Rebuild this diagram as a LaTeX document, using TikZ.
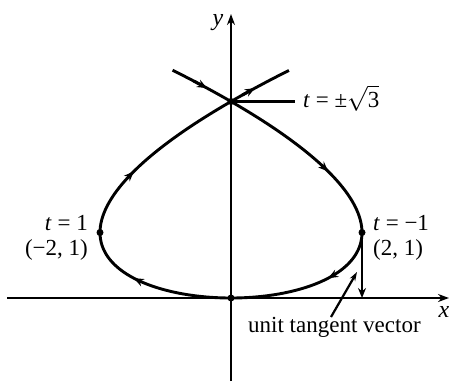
\documentclass[tikz,border=0pt]{standalone}
\usepackage{fontspec}
\setmainfont{Liberation Serif}
\usetikzlibrary{arrows.meta}
\begin{document}
\begin{tikzpicture}[x=1pt,y=-1pt,
  curve/.style={line width=2.9pt},
  axis/.style={line width=2.6pt,-{Stealth[length=11pt,width=8pt]}},
  lbl/.style={font=\fontsize{23}{27}\selectfont, inner sep=0pt},
  dot/.style={circle,fill,inner sep=0pt,minimum size=7pt},
  tip/.style={line width=2.9pt,-{Stealth[length=10pt,width=8pt]}}]
\useasboundingbox (0,0) rectangle (455,381);
% axes
\coordinate (xl) at (7,298);
\coordinate (xr) at (449,298);
\coordinate (yb) at (231,381);
\coordinate (yt) at (231,14);
\draw[axis] (xl) -- (xr);
\draw[axis] (yb) -- (yt);
\node[font=\fontsize{24}{28}\selectfont\itshape] (xlab) at (444,312) {x};
\node[font=\fontsize{24}{28}\selectfont\itshape] (ylab) at (218,23) {y};
% curve x = t^3-3t, y = t^2
\draw[curve] plot[domain=-1.865:1.865, samples=160, smooth, variable=\t]
  ({231+65.5*(\t*\t*\t-3*\t)},{298-65.5*\t*\t});
\foreach \t in {-1.79,-1.39,-0.55,0.55,1.39,1.79}{
  \pgfmathsetmacro\ta{\t-0.03}
  \draw[tip] ({231+65.5*(\ta*\ta*\ta-3*\ta)},{298-65.5*\ta*\ta})
    -- ({231+65.5*(\t*\t*\t-3*\t)},{298-65.5*\t*\t});
}
% points
\node[dot] (O) at (231,298) {};
\node[dot] (C) at (231,101.5) {};
\node[dot] (L) at (100,232.5) {};
\node[dot] (R) at (362,232.5) {};
% unit tangent vector
\coordinate (Rb) at (362,298);
\draw[tip] (R.center) -- (Rb);
% labels
\coordinate (Cl) at (295,101.5);
\draw[line width=2.2pt] (C.center) -- (Cl);
\node[lbl, anchor=base west] (tC) at (303,107) {\textit{t} = ±$\sqrt{\mbox{3}}$};
\node[lbl, anchor=base east] (tL) at (88,230) {\textit{t} = 1};
\node[lbl, anchor=base east] (pL) at (88,255) {(−2,\ 1)};
\node[lbl, anchor=base west] (tR) at (373,230) {\textit{t} = −1};
\node[lbl, anchor=base west] (pR) at (373,255) {(2,\ 1)};
\node[lbl, anchor=base west] (utv) at (248,332) {unit tangent vector};
\coordinate (ua) at (331,317);
\coordinate (ub) at (357,272);
\draw[line width=2.2pt,-{Stealth[length=9pt,width=6pt]}] (ua) -- (ub);
\end{tikzpicture}
\end{document}
